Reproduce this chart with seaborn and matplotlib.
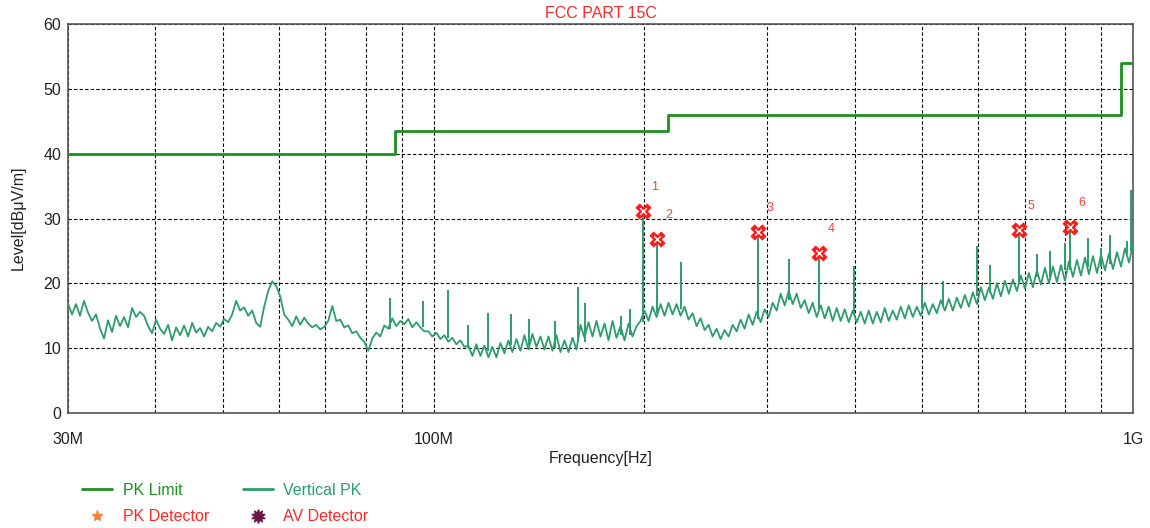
import numpy as np
import pandas as pd
import matplotlib
matplotlib.use("Agg")
import matplotlib.pyplot as plt
import seaborn as sns
from matplotlib.lines import Line2D
from matplotlib.ticker import FixedLocator, NullFormatter

# ---------------- data ----------------
limit_freq_mhz = [30, 88, 216, 960, 1000]
limit_level = [40.0, 43.5, 46.0, 54.0, 54.0]

trace_start_mhz = 30
trace_stop_mhz = 1000
trace_level = [
    16.9, 15.2, 16.8, 15.0, 17.3, 15.5, 14.2, 15.2, 13.0, 11.5,
    14.3, 12.5, 15.0, 13.4, 14.8, 13.2, 16.2, 14.8, 15.6, 15.0,
    13.4, 12.3, 14.4, 13.0, 12.2, 13.6, 11.2, 13.2, 12.0, 13.5,
    11.8, 13.9, 12.4, 13.1, 11.8, 13.3, 12.6, 13.9, 13.3, 14.5,
    14.0, 15.2, 17.3, 15.8, 16.3, 15.0, 15.8, 13.9, 13.3, 16.4,
    18.8, 20.3, 19.6, 18.0, 15.2, 14.4, 13.4, 14.9, 13.6, 14.7,
    13.8, 13.2, 13.6, 12.9, 13.3, 14.2, 16.5, 14.2, 14.4, 13.2,
    13.5, 12.3, 12.6, 11.6, 11.0, 9.6, 11.5, 12.4, 11.8, 13.5,
    13.0, 14.6, 13.4, 14.2, 13.7, 14.5, 13.2, 14.0, 13.2, 12.6,
    12.6, 11.8, 12.4, 11.4, 12.0, 11.0, 11.6, 10.6, 11.2, 10.2,
    10.4, 8.8, 10.6, 8.8, 10.4, 8.6, 10.2, 8.6, 10.8, 9.2,
    11.2, 9.4, 11.4, 9.6, 12.0, 9.8, 12.2, 10.2, 11.8, 9.8,
    11.8, 9.6, 12.0, 9.4, 11.2, 9.4, 11.6, 9.8, 13.6, 11.6,
    14.0, 11.8, 14.2, 11.8, 13.8, 11.2, 14.2, 11.6, 13.4, 11.2,
    13.8, 11.8, 13.4, 14.2, 15.8, 14.2, 16.4, 14.8, 16.8, 15.0,
    17.0, 15.2, 16.8, 15.0, 16.4, 14.4, 15.4, 13.4, 14.6, 12.8,
    13.6, 11.8, 13.0, 11.4, 12.8, 11.8, 13.6, 12.6, 14.4, 13.0,
    15.2, 13.6, 15.6, 14.0, 16.0, 14.8, 17.0, 15.8, 18.4, 16.6,
    18.8, 16.8, 18.4, 16.2, 17.4, 15.4, 17.0, 14.8, 16.6, 14.6,
    16.4, 14.2, 16.2, 14.2, 16.0, 14.0, 15.8, 14.0, 15.6, 13.8,
    15.8, 13.8, 15.6, 14.0, 16.2, 14.2, 15.8, 14.4, 16.4, 14.6,
    16.6, 14.8, 16.4, 15.0, 17.0, 15.2, 16.8, 15.4, 17.4, 15.8,
    17.6, 15.8, 17.8, 16.2, 18.2, 16.4, 18.6, 16.8, 19.4, 17.4,
    19.4, 17.6, 20.0, 18.0, 20.4, 18.4, 20.6, 18.8, 21.2, 19.2,
    21.6, 19.4, 22.0, 19.8, 22.4, 20.0, 22.6, 20.2, 22.8, 20.4,
    23.4, 21.0, 23.6, 21.2, 24.0, 21.4, 24.2, 21.6, 24.4, 22.0,
    24.6, 22.2, 24.8, 22.6, 25.4, 23.2, 26.0,
]

spike_freq_mhz = [86.6, 96.5, 104.8, 112.0, 119.6, 129.0, 137.0, 149.0, 160.9,
                  164.6, 185.0, 191.0, 199.2, 208.7, 225.7,
                  291.0, 322.0, 355.8, 399.0, 499.0, 535.0, 598.0, 625.0, 687.0,
                  730.0, 760.0, 800.0, 813.0, 862.0, 900.0, 927.0, 981.0, 995.0]
spike_base = [13.0, 13.2, 11.5, 10.0, 9.5, 10.5, 10.5, 10.0, 11.0,
              11.0, 12.0, 12.0, 14.0, 15.5, 16.0,
              14.5, 17.5, 16.0, 15.5, 16.0, 16.5, 18.0, 18.5, 20.0,
              21.0, 21.0, 22.0, 22.0, 22.5, 22.5, 23.0, 24.5, 25.0]
spike_peak = [17.7, 17.3, 19.0, 13.5, 15.4, 15.2, 14.5, 14.2, 19.5,
              16.9, 15.0, 16.0, 31.5, 27.0, 23.3,
              28.0, 23.7, 24.8, 22.6, 19.7, 20.3, 25.8, 22.8, 28.3,
              24.5, 25.0, 26.2, 28.8, 27.0, 25.5, 27.5, 26.5, 34.4]

marker_freq_mhz = [199.2, 208.7, 291.0, 355.8, 687.0, 813.0]
marker_level = [31.2, 26.9, 27.9, 24.7, 28.2, 28.7]
marker_labels = ["1", "2", "3", "4", "5", "6"]

x_tick_mhz = [30, 100, 1000]
x_tick_labels = ["30M", "100M", "1G"]
x_grid_mhz = [40, 50, 60, 70, 80, 90, 200, 300, 400, 500, 600, 700, 800, 900]
y_ticks = [0, 10, 20, 30, 40, 50, 60]

# ---------------- style ----------------
LIMIT_C = "#1f8f22"
TRACE_C = "#2e9c6c"
RED_T = "#ff2a2a"

sns.set_style("white")
plt.rcParams['font.family'] = ['Liberation Sans', 'DejaVu Sans']

W, H = 1150, 528
fig = plt.figure(figsize=(W / 100, H / 100), dpi=100)
ax = fig.add_axes([68 / W, 1 - 413 / H, (1133 - 68) / W, (413 - 24) / H])

trace_freq = np.geomspace(trace_start_mhz, trace_stop_mhz, len(trace_level))
df_trace = pd.DataFrame({"freq": trace_freq, "level": trace_level})
df_limit = pd.DataFrame({"freq": limit_freq_mhz, "level": limit_level})
df_mark = pd.DataFrame({"freq": marker_freq_mhz, "level": marker_level})

ax.set_xscale("log")
sns.lineplot(data=df_trace, x="freq", y="level", ax=ax, color=TRACE_C,
             lw=1.3, estimator=None, zorder=3)
ax.vlines(spike_freq_mhz, spike_base, spike_peak, color=TRACE_C, lw=1.4, zorder=3)
sns.lineplot(data=df_limit, x="freq", y="level", ax=ax, color=LIMIT_C,
             lw=2.0, estimator=None, drawstyle="steps-post", zorder=4)

sns.scatterplot(data=df_mark, x="freq", y="level", ax=ax, marker="X", s=120,
                color="#ff1a1a", edgecolor="#ff1a1a", linewidth=0.5, zorder=6)
sns.scatterplot(data=df_mark, x="freq", y="level", ax=ax, marker="x", s=22,
                color="white", linewidth=1.0, zorder=7)
for f, l, t in zip(marker_freq_mhz, marker_level, marker_labels):
    ax.annotate(t, (f, l), xytext=(12, 24), textcoords="offset pixels",
                color="#ff4040", fontsize=9, ha="center", va="center")

ax.set_xlim(30, 1000)
ax.set_ylim(0, 60)
ax.set_xticks(x_tick_mhz)
ax.set_xticklabels(x_tick_labels)
ax.xaxis.set_minor_locator(FixedLocator(x_grid_mhz))
ax.xaxis.set_minor_formatter(NullFormatter())
ax.set_yticks(y_ticks)
ax.tick_params(axis="both", which="both", length=0, labelsize=11.5, colors="#222222")
ax.tick_params(axis="x", pad=14)
ax.tick_params(axis="y", pad=5)
ax.grid(which="both", axis="x", ls=(0, (3, 2)), color="black", lw=0.8)
ax.grid(which="major", axis="y", ls=(0, (3, 2)), color="black", lw=0.8)
for s in ax.spines.values():
    s.set_color("#555555")
    s.set_linewidth(1.2)

ax.set_xlabel("")
ax.set_ylabel("")
ax.set_title("FCC PART 15C", color=RED_T, fontsize=11.5, pad=4)
fig.text(601 / W, 1 - 458 / H, "Frequency[Hz]", ha="center", va="center", fontsize=11.5, color="#222222")
fig.text(18 / W, 1 - 218 / H, "Level[dBμV/m]", ha="center", va="center", rotation=90,
         fontsize=11.5, color="#222222")

handles = [
    Line2D([], [], color=LIMIT_C, lw=2),
    Line2D([], [], ls="none", marker="*", color="#ff7f3f", markersize=8),
    Line2D([], [], color=TRACE_C, lw=2),
    Line2D([], [], ls="none", marker=(10, 1, 0), color="#6b1a48", markersize=10),
]
labels = ["PK Limit", "PK Detector", "Vertical PK", "AV Detector"]
leg = fig.legend(handles, labels, loc="upper left", bbox_to_anchor=(82 / W, 1 - 483 / H),
                 ncol=2, frameon=False, fontsize=11.5, borderpad=0, borderaxespad=0,
                 handlelength=1.9, handletextpad=0.65, columnspacing=2.1, labelspacing=0.7)
for txt, c in zip(leg.get_texts(), [LIMIT_C, RED_T, TRACE_C, RED_T]):
    txt.set_color(c)

fig.savefig("out.png", dpi=100)
